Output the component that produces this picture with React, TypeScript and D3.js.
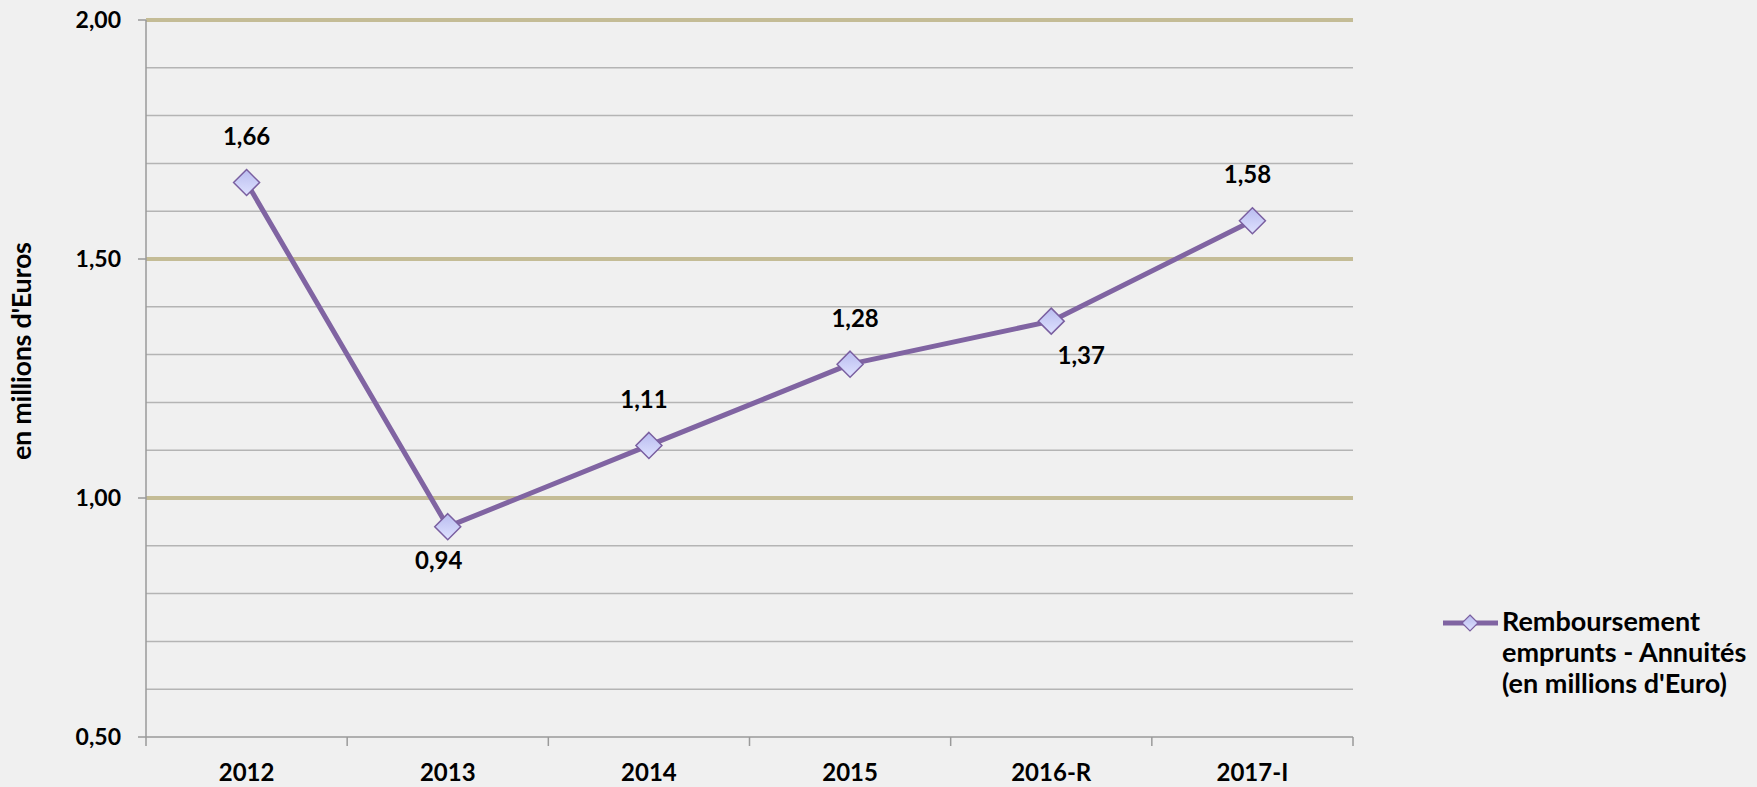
import React from 'react';
import * as d3 from 'd3';

const categories = ['2012', '2013', '2014', '2015', '2016-R', '2017-I'];
const values = [1.66, 0.94, 1.11, 1.28, 1.37, 1.58];
const labelPlacement = ['above', 'below', 'above', 'above', 'below', 'above'];
const labelShift = [0, -9, -5, 5, 30, -5];
const majorTicks = [0.5, 1.0, 1.5, 2.0];
const minorTicks = [0.6, 0.7, 0.8, 0.9, 1.1, 1.2, 1.3, 1.4, 1.6, 1.7, 1.8, 1.9];
const seriesName = ['Remboursement', 'emprunts - Annuités', "(en millions d'Euro)"];
const yTitle = "en millions d'Euros";

const W = 1757;
const H = 787;
const margin = { top: 20, left: 146, right: 404, bottom: 50 };
const FONT = 'Lato, "Open Sans", sans-serif';

const fmt = (v: number) => v.toFixed(2).replace('.', ',');

const App = () => {
  const x = d3.scaleBand<string>().domain(categories).range([margin.left, W - margin.right]);
  const y = d3.scaleLinear().domain([0.5, 2.0]).range([H - margin.bottom, margin.top]);
  const cx = (c: string) => (x(c) as number) + x.bandwidth() / 2;
  const line = d3.line<number>().x((_, i) => cx(categories[i])).y(d => y(d));
  const diamond = (r: number) => `M0,${-r}L${r},0L0,${r}L${-r},0Z`;
  const [x0, x1] = x.range();
  const yBottom = y(0.5);

  return (
    <svg width={W} height={H} style={{ position: 'absolute', left: 0, top: 0, background: '#f0f0f0' }}
      fontFamily={FONT} fontWeight="bold">
      <defs>
        <linearGradient id="mk" x1="0" y1="0" x2="0" y2="1">
          <stop offset="0%" stopColor="#b9bcef" />
          <stop offset="100%" stopColor="#dfe2ff" />
        </linearGradient>
      </defs>
      <rect width={W} height={H} fill="#f0f0f0" />

      {minorTicks.map(t => (
        <line key={'mi' + t} x1={x0} x2={x1} y1={y(t)} y2={y(t)} stroke="#b4b4b4" strokeWidth={1.5} />
      ))}
      {majorTicks.filter(t => t > 0.5).map(t => (
        <line key={'ma' + t} x1={x0} x2={x1} y1={y(t)} y2={y(t)} stroke="#c4bc96" strokeWidth={4} />
      ))}

      {/* axes */}
      <line x1={x0} x2={x0} y1={y(2)} y2={yBottom + 9} stroke="#9a9a9a" strokeWidth={1.5} />
      <line x1={x0} x2={x1} y1={yBottom} y2={yBottom} stroke="#9a9a9a" strokeWidth={1.5} />
      {categories.map(c => (
        <line key={'xt' + c} x1={(x(c) as number) + x.bandwidth()} x2={(x(c) as number) + x.bandwidth()}
          y1={yBottom} y2={yBottom + 9} stroke="#9a9a9a" strokeWidth={1.5} />
      ))}
      {majorTicks.map(t => (
        <g key={'yl' + t}>
          <line x1={x0 - 8} x2={x0} y1={y(t)} y2={y(t)} stroke="#9a9a9a" strokeWidth={1.5} />
          <text x={x0 - 25} y={y(t)} dy="0.35em" textAnchor="end" fontSize={23}>{fmt(t)}</text>
        </g>
      ))}
      {categories.map(c => (
        <text key={'xl' + c} x={cx(c)} y={781} textAnchor="middle" fontSize={24}>{c}</text>
      ))}
      <text transform={`translate(31,351) rotate(-90)`} textAnchor="middle" fontSize={27}
        textLength={218} lengthAdjust="spacing">{yTitle}</text>

      {/* series */}
      <path d={line(values) as string} fill="none" stroke="#8064a2" strokeWidth={5} strokeLinejoin="round" />
      {values.map((v, i) => (
        <path key={'m' + i} d={diamond(13)} transform={`translate(${cx(categories[i])},${y(v)})`}
          fill="url(#mk)" stroke="#7a5fa0" strokeWidth={1.5} />
      ))}
      {values.map((v, i) => (
        <text key={'dl' + i} x={cx(categories[i]) + labelShift[i]}
          y={y(v) + (labelPlacement[i] === 'above' ? -46 : 34)} dy="0.35em"
          textAnchor="middle" fontSize={24}>{fmt(v)}</text>
      ))}

      {/* legend */}
      <g transform="translate(1443,623)">
        <line x1={0} x2={55} y1={0} y2={0} stroke="#8064a2" strokeWidth={5} />
        <path d={diamond(8)} transform="translate(27,0)" fill="url(#mk)" stroke="#7a5fa0" strokeWidth={1.2} />
        {seriesName.map((s, i) => (
          <text key={s} x={59} y={8 + i * 31} fontSize={27}>{s}</text>
        ))}
      </g>
    </svg>
  );
};

export default App;
